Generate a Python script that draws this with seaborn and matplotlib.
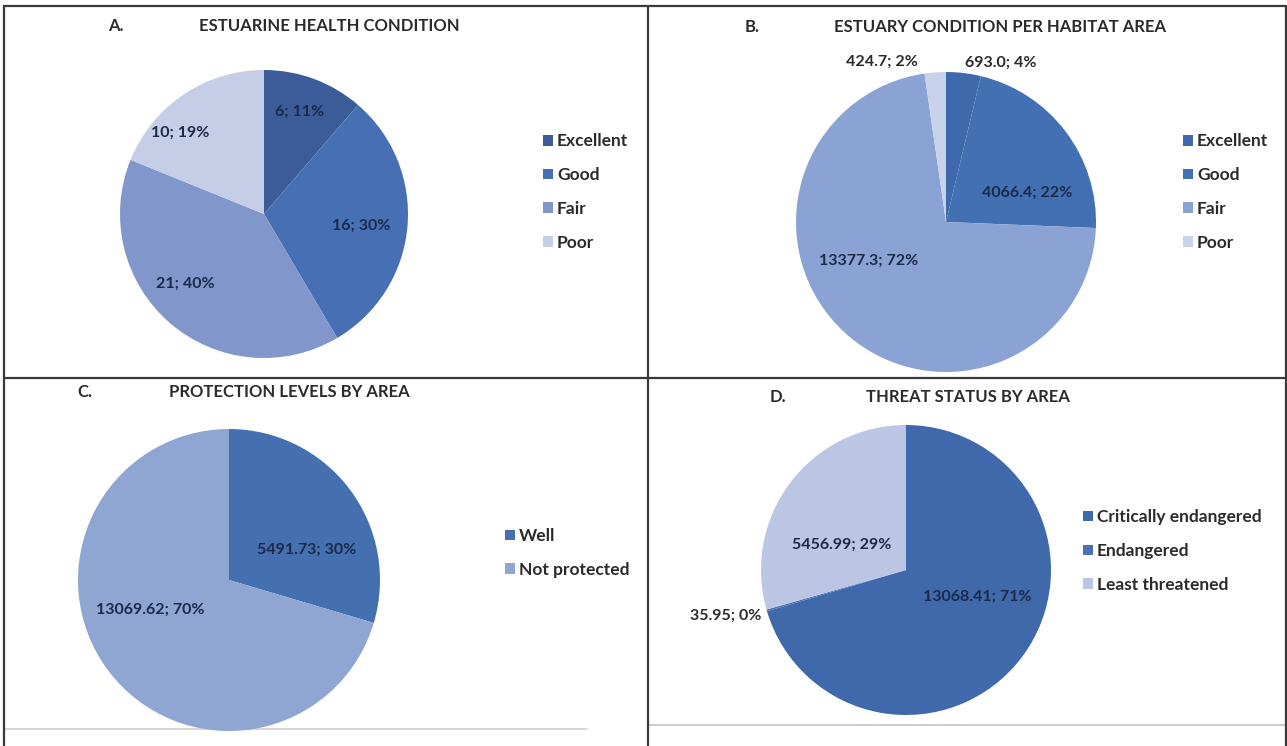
import matplotlib
matplotlib.use("Agg")
import matplotlib.pyplot as plt
from matplotlib.lines import Line2D
import numpy as np
import seaborn as sns

# ---- data -------------------------------------------------------------
health_cats = ["Excellent", "Good", "Fair", "Poor"]
health_counts = [6, 16, 21, 10]
health_pct = ["11%", "30%", "40%", "19%"]

habitat_cats = ["Excellent", "Good", "Fair", "Poor"]
habitat_area = [693.0, 4066.4, 13377.3, 424.7]
habitat_pct = ["4%", "22%", "72%", "2%"]

protect_cats = ["Well", "Not protected"]
protect_area = [5491.73, 13069.62]
protect_pct = ["30%", "70%"]

threat_cats = ["Critically endangered", "Endangered", "Least threatened"]
threat_area = [13068.41, 35.95, 5456.99]
threat_pct = ["71%", "0%", "29%"]

# ---- styling ----------------------------------------------------------
sns.set_theme(style="white")
plt.rcParams["font.family"] = ["Lato", "DejaVu Sans"]

W, H = 1287, 746
fig = plt.figure(figsize=(W / 100, H / 100), dpi=100)
fig.patch.set_facecolor("white")


def fx(px):
    return px / W


def fy(py):
    return 1 - py / H


TEXT = "#2b2b2b"
INNER = "#1c2a4a"


def pie_panel(cx, cy, r, values, colors, texts, place, cats, legend_xy,
              letter, letter_xy, title, title_xy, fs_lab=11.5):
    ax = fig.add_axes([fx(cx - r), fy(cy + r), 2 * r / W, 2 * r / H])
    ax.patch.set_visible(False)
    wedges, _ = ax.pie(values, colors=colors, startangle=90,
                       counterclock=False,
                       wedgeprops=dict(linewidth=0, antialiased=True))
    ax.set_xlim(-1, 1)
    ax.set_ylim(-1, 1)
    ax.set_aspect("auto")
    for w, txt, (dist, ha, dx, dy, col) in zip(wedges, texts, place):
        mid = np.deg2rad((w.theta1 + w.theta2) / 2)
        x, y = dist * np.cos(mid), dist * np.sin(mid)
        ax.annotate(txt, xy=(x, y), xytext=(dx, dy), textcoords="offset points",
                    ha=ha, va="center", fontsize=fs_lab, color=col,
                    fontweight="bold", annotation_clip=False)
    leg = ax.legend(wedges, cats, loc="center left",
                    bbox_to_anchor=(fx(legend_xy[0]), fy(legend_xy[1])),
                    bbox_transform=fig.transFigure, frameon=False,
                    fontsize=12.5, handlelength=0.55, handleheight=0.55,
                    handletextpad=0.25, labelspacing=1.02, borderpad=0,
                    borderaxespad=0, labelcolor=TEXT)
    for t in leg.get_texts():
        t.set_fontweight("bold")
    fig.text(fx(letter_xy[0]), fy(letter_xy[1]), letter, ha="center",
             va="center", fontsize=12, color=TEXT, fontweight="bold")
    fig.text(fx(title_xy[0]), fy(title_xy[1]), title, ha="center",
             va="center", fontsize=12, color=TEXT, fontweight="bold")
    return ax


def lab(vals, pcts, fmt):
    return [f"{v:{fmt}}; {p}" for v, p in zip(vals, pcts)]


# A. health condition (counts)
pie_panel(264, 214, 144, health_counts,
          ["#3b5c98", "#4670b3", "#8197cc", "#c6cde6"],
          lab(health_counts, health_pct, "d"),
          [(0.76, "center", -2, 0, INNER), (0.71, "center", -3, -2, INNER),
           (0.72, "center", -8, 6, INNER), (0.8, "center", -14, -10, INNER)],
          health_cats, (543, 192), "A.", (116, 26),
          "ESTUARINE HEALTH CONDITION", (329, 26))

# B. condition per habitat area
pie_panel(946, 222, 150, habitat_area,
          ["#3e6aab", "#4270b2", "#8aa3d4", "#c8d2eb"],
          lab(habitat_area, habitat_pct, ".1f"),
          [(1.1, "left", 0, -3, TEXT), (0.55, "center", 11, -15, INNER),
           (0.6, "center", -12, 20, INNER), (1.1, "right", -12, -3, TEXT)],
          habitat_cats, (1183, 192), "B.", (752, 27),
          "ESTUARY CONDITION PER HABITAT AREA", (1000, 27))

# C. protection levels
pie_panel(229, 580, 151, protect_area,
          ["#4570b0", "#8fa5d2"],
          lab(protect_area, protect_pct, ".2f"),
          [(0.55, "center", 8, -14, INNER), (0.56, "center", -8, 15, INNER)],
          protect_cats, (505, 553), "C.", (85, 392),
          "PROTECTION LEVELS BY AREA", (289, 392))

# D. threat status
pie_panel(906, 570, 145, threat_area,
          ["#3f69ab", "#4a6fb5", "#bac6e3"],
          lab(threat_area, threat_pct, ".2f"),
          [(0.53, "center", 7, 14, INNER), (1.0, "right", -4, -4, TEXT),
           (0.57, "center", 1, -18, INNER)],
          threat_cats, (1083, 551), "D.", (778, 397),
          "THREAT STATUS BY AREA", (968, 397))

# ---- panel frame ------------------------------------------------------
def hline(y, x0, x1, color="#3a3a3a", lw=1.6, z=5):
    fig.add_artist(Line2D([fx(x0), fx(x1)], [fy(y), fy(y)], color=color,
                          lw=lw, zorder=z))


def vline(x, y0, y1, color="#3a3a3a", lw=1.6, z=5):
    fig.add_artist(Line2D([fx(x), fx(x)], [fy(y0), fy(y1)], color=color,
                          lw=lw, zorder=z))


hline(6, 4, 1286)
hline(378, 4, 1286)
vline(4, 6, 746)
vline(648, 6, 746)
vline(1286, 6, 746)
hline(729, 5, 587, color="#cfcfcf", lw=1.2, z=-1)
hline(725, 648, 1285, color="#c4c4c4", lw=1.2, z=-1)

fig.savefig("out.png", dpi=100, facecolor="white")
